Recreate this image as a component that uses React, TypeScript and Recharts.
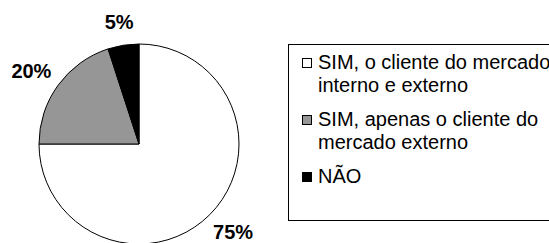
import { PieChart, Pie, Cell, Legend } from 'recharts'

const categorias = [
  'SIM, o cliente do mercado interno e externo',
  'SIM, apenas o cliente do mercado externo',
  'NÃO',
]
const percentuais = [75, 20, 5]
const cores = ['#ffffff', '#969696', '#000000']

const dados = categorias.map((nome, i) => ({ nome, valor: percentuais[i] }))

const RAD = Math.PI / 180
const FONTE = 'Arial, "Liberation Sans", sans-serif'

function Rotulo(props: any) {
  const { cx, cy, midAngle, outerRadius, value } = props
  const r = outerRadius + 15
  const c = Math.cos(-midAngle * RAD)
  const s = Math.sin(-midAngle * RAD)
  const meiaLargura = (String(value).length + 1) * 6
  const x = cx + r * c + c * meiaLargura
  const y = cy + r * s + s * 9
  return (
    <text
      x={x}
      y={y}
      textAnchor="middle"
      dominantBaseline="central"
      fill="#000"
      fontSize={20}
      fontWeight="bold"
      fontFamily={FONTE}
    >
      {`${value}%`}
    </text>
  )
}

function Legenda() {
  return (
    <div
      style={{
        boxSizing: 'border-box',
        width: 300,
        height: 177,
        border: '1px solid #000',
        padding: '6px 0 0 13px',
        fontFamily: FONTE,
        fontSize: 20,
        lineHeight: '23px',
        color: '#000',
      }}
    >
      {dados.map((d, i) => (
        <div key={d.nome} style={{ display: 'flex', marginBottom: 11 }}>
          <span
            style={{
              boxSizing: 'border-box',
              width: 10,
              height: 10,
              marginTop: 7,
              marginRight: 6,
              flexShrink: 0,
              background: cores[i],
              border: '1px solid #000',
            }}
          />
          <span style={{ width: 235 }}>{d.nome}</span>
        </div>
      ))}
    </div>
  )
}

export default function App() {
  return (
    <div style={{ position: 'absolute', left: 0, top: 0, width: 549, height: 243, background: '#fff', overflow: 'hidden' }}>
      <PieChart width={549} height={243} margin={{ top: 0, right: 0, bottom: 0, left: 0 }}>
        <Pie
          data={dados}
          dataKey="valor"
          nameKey="nome"
          cx={139}
          cy={144}
          outerRadius={100}
          startAngle={90}
          endAngle={-270}
          stroke="#000"
          strokeWidth={1}
          label={Rotulo}
          labelLine={false}
          isAnimationActive={false}
        >
          {dados.map((d, i) => (
            <Cell key={d.nome} fill={cores[i]} />
          ))}
        </Pie>
        <Legend
          content={<Legenda />}
          wrapperStyle={{ left: 288, top: 44, width: 300, height: 177 }}
        />
      </PieChart>
    </div>
  )
}
